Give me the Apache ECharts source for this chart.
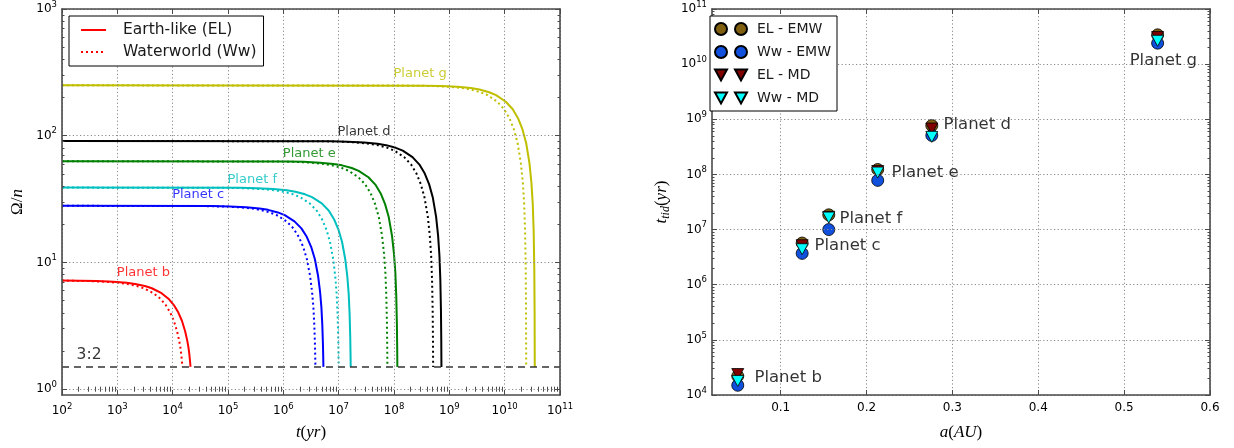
<!DOCTYPE html>
<html><head><meta charset="utf-8">
<script src="https://cdn.jsdelivr.net/npm/echarts@6/dist/echarts.min.js"></script>
<style>html,body{margin:0;padding:0;background:#fff}#c{width:1234px;height:448px}</style>
</head><body><div id="c"></div>
<script>
// ===== Left panel: Omega/n versus t (yr) =====
// Omega/n along each track (shared by EL and Ww), and times for Earth-like (EL) / Waterworld (Ww)
const bOmega = [7.2,7.17,7.13,7.05,6.92,6.77,6.52,6.26,5.72,5.18,4.61,4.04,3.47,2.87,2.44,2.13,1.87,1.67,1.56,1.5];
const bT_EL = [100,210,420,840,1470,2100,3150,4200,6300,8400,10500,12600,14700,16800,18270,19320,20055,20580,20853,21000];
const bT_Ww = [100,150,300,600,1050,1500,2250,3000,4500,6000,7500,9000,10500,12000,13050,13800,14325,14700,14895,15000];
const cOmega = [28,27.84,27.66,27.28,26.68,26.01,24.82,23.63,21.11,18.59,15.94,13.29,10.64,7.86,5.87,4.42,3.22,2.30,1.77,1.5];
const cT_EL = [100,5.3e4,1.06e5,2.12e5,3.71e5,5.3e5,7.95e5,1.06e6,1.59e6,2.12e6,2.65e6,3.18e6,3.71e6,4.24e6,4.611e6,4.876e6,5.0615e6,5.194e6,5.2629e6,5.3e6];
const cT_Ww = [100,3.8e4,7.6e4,1.52e5,2.66e5,3.8e5,5.7e5,7.6e5,1.14e6,1.52e6,1.9e6,2.28e6,2.66e6,3.04e6,3.306e6,3.496e6,3.629e6,3.724e6,3.7734e6,3.8e6];
const fOmega = [39,38.78,38.51,37.99,37.13,36.19,34.5,32.81,29.25,25.69,21.94,18.19,14.44,10.5,7.69,5.63,3.94,2.63,1.88,1.5];
const fT_EL = [100,1.65e5,3.3e5,6.6e5,1.155e6,1.65e6,2.475e6,3.3e6,4.95e6,6.6e6,8.25e6,9.9e6,1.155e7,1.32e7,1.4355e7,1.518e7,1.57575e7,1.617e7,1.63845e7,1.65e7];
const fT_Ww = [100,1e5,2e5,4e5,7e5,1e6,1.5e6,2e6,3e6,4e6,5e6,6e6,7e6,8e6,8.7e6,9.2e6,9.55e6,9.8e6,9.93e6,1e7];
const eOmega = [63,62.63,62.2,61.34,59.93,58.39,55.62,52.85,47.01,41.17,35.02,28.87,22.72,16.26,11.65,8.27,5.50,3.35,2.12,1.5];
const eT_EL = [100,1.15e6,2.3e6,4.6e6,8.05e6,1.15e7,1.725e7,2.3e7,3.45e7,4.6e7,5.75e7,6.9e7,8.05e7,9.2e7,1.0005e8,1.058e8,1.09825e8,1.127e8,1.14195e8,1.15e8];
const eT_Ww = [100,7.6e5,1.52e6,3.04e6,5.32e6,7.6e6,1.14e7,1.52e7,2.28e7,3.04e7,3.8e7,4.56e7,5.32e7,6.08e7,6.612e7,6.992e7,7.258e7,7.448e7,7.5468e7,7.6e7];
const dOmega = [91,90.46,89.84,88.58,86.53,84.29,80.26,76.23,67.73,59.23,50.28,41.33,32.38,22.98,16.27,11.35,7.32,4.19,2.40,1.5];
const dT_EL = [100,7.2e6,1.44e7,2.88e7,5.04e7,7.2e7,1.08e8,1.44e8,2.16e8,2.88e8,3.6e8,4.32e8,5.04e8,5.76e8,6.264e8,6.624e8,6.876e8,7.056e8,7.1496e8,7.2e8];
const dT_Ww = [100,5.1e6,1.02e7,2.04e7,3.57e7,5.1e7,7.65e7,1.02e8,1.53e8,2.04e8,2.55e8,3.06e8,3.57e8,4.08e8,4.437e8,4.692e8,4.8705e8,4.998e8,5.0643e8,5.1e8];
const gOmega = [250,248.5,246.8,243.3,237.6,231.4,220.2,209.0,185.4,161.8,136.9,112.1,87.2,61.1,42.5,28.8,17.7,9.0,4.0,1.5];
const gT_EL = [100,3.5e8,7e8,1.4e9,2.45e9,3.5e9,5.25e9,7e9,1.05e10,1.4e10,1.75e10,2.1e10,2.45e10,2.8e10,3.045e10,3.22e10,3.3425e10,3.43e10,3.4755e10,3.5e10];
const gT_Ww = [100,2.45e8,4.9e8,9.8e8,1.715e9,2.45e9,3.675e9,4.9e9,7.35e9,9.8e9,1.225e10,1.47e10,1.715e10,1.96e10,2.1315e10,2.254e10,2.33975e10,2.401e10,2.43285e10,2.45e10];
const resonanceT = [1e2, 1e11];
const resonanceV = [1.5, 1.5];
const leftPlanetNames = ['Planet b','Planet c','Planet f','Planet e','Planet d','Planet g'];
const leftLabelT = [1e3, 1e4, 1e5, 1e6, 9.7e6, 1e8];
const leftLabelV = [8.2, 34, 44.5, 72, 107, 305];
const resonanceLabel = ['3:2', 187, 1.83];
const leftXTicks = [2,3,4,5,6,7,8,9,10,11];      // exponents of 10
const leftYTicks = [0,1,2,3];

// ===== Right panel: t_tid (yr) versus a (AU) =====
const rightPlanetNames = ['Planet b','Planet c','Planet f','Planet e','Planet d','Planet g'];
const aAU     = [0.05, 0.125, 0.156, 0.213, 0.276, 0.539];
const tEL_EMW = [2.2e4, 5.7e6, 1.85e7, 1.23e8, 7.7e8, 3.4e10];
const tWw_EMW = [1.5e4, 3.7e6, 1.0e7, 7.8e7, 5.1e8, 2.4e10];
const tEL_MD  = [2.4e4, 5.2e6, 1.7e7, 1.15e8, 6.8e8, 3.1e10];
const tWw_MD  = [1.8e4, 4.4e6, 1.65e7, 1.08e8, 4.8e8, 2.65e10];
const rightLabelA = [0.070, 0.140, 0.169, 0.2296, 0.2902, 0.507];
const rightLabelT = [2.04e4, 4.97e6, 1.53e7, 1.04e8, 7.7e8, 1.15e10];
const rightXTicks = [0.1,0.2,0.3,0.4,0.5,0.6];
const rightYTicks = [4,5,6,7,8,9,10,11];

// ===== build =====
const L = Math.log10;
const SANS = 'DejaVu Sans';
const SERIF = 'Liberation Serif';
const SPINE = '#4a4a4a';
const C = {b:'#ff0000', c:'#0000ff', f:'#00bfbf', e:'#008000', d:'#000000', g:'#bfbf00'};

function logMinors(lo, hi) {
  const out = [];
  for (let k = Math.floor(lo); k <= Math.ceil(hi); k++)
    for (let m = 2; m <= 9; m++) { const v = k + L(m); if (v > lo && v < hi) out.push(v); }
  return out;
}
const powFmt = v => '{b|10}{s|' + Math.round(v) + '}';
const linFmt = v => String(Math.round(v * 10) / 10);
const labRich = { b: {fontSize: 12, fontFamily: SANS, color: '#000'},
                  s: {fontSize: 8.5, fontFamily: SANS, color: '#000', padding: [0,0,9,0]} };

function mkAxes(kind, grid, min, max, majors, minors, fmt, name, nameGap, nameStyle) {
  const pos = kind === 'x' ? ['bottom','top'] : ['left','right'];
  const hidden = {type:'value', gridIndex:grid, min:min, max:max,
    splitLine:{show:false}, axisLabel:{show:false}, axisLine:{show:false}, axisTick:{show:false}};
  const axes = [];
  for (let side = 0; side < 2; side++) {
    const main = Object.assign({}, hidden, {
      position: pos[side],
      axisLine: {show:true, onZero:false, lineStyle:{color:SPINE, width:1.6}},
      axisTick: {show:true, inside:true, length:5, customValues:majors, lineStyle:{color:SPINE, width:1}},
      splitLine: {show: side === 0, lineStyle:{color:'#8a8a8a', width:1, type:[1.2,2.4]}},
      z: 5
    });
    if (side === 0) {
      main.axisLabel = {show:true, customValues:majors, formatter:fmt, rich:labRich,
        fontSize:12, fontFamily:SANS, color:'#000', margin: kind === 'x' ? 7 : 5};
      main.name = name; main.nameLocation = 'middle'; main.nameGap = nameGap;
      main.nameTextStyle = nameStyle;
      if (kind === 'y') main.nameRotate = 90;
    }
    axes.push(main);
    if (minors && minors.length) {
      axes.push(Object.assign({}, hidden, {
        position: pos[side],
        axisTick: {show:true, inside:true, length:2.5, customValues:minors, lineStyle:{color:SPINE, width:1}},
        z: 5
      }));
    }
  }
  return axes;
}

const serifName = {rich:{i:{fontFamily:SERIF, fontStyle:'italic', fontSize:17, color:'#000'},
                         u:{fontFamily:SERIF, fontSize:17, color:'#000'},
                         sub:{fontFamily:SERIF, fontStyle:'italic', fontSize:12, color:'#000', padding:[8,0,0,0]}}};
const xAxes = [], yAxes = [];
const LX = xAxes.length;
xAxes.push(...mkAxes('x', 0, 2, 11, leftXTicks, logMinors(2, 11), powFmt, '{i|t}{u|(}{i|yr}{u|)}', 29, serifName));
const LY = yAxes.length;
yAxes.push(...mkAxes('y', 0, L(0.9), 3, leftYTicks, logMinors(L(0.9), 3), powFmt, '{u|Ω/}{i|n}', 36, serifName));
const RX = xAxes.length;
xAxes.push(...mkAxes('x', 1, 0.02, 0.6, rightXTicks, null, linFmt, '{i|a}{u|(}{i|AU}{u|)}', 29, serifName));
const RY = yAxes.length;
yAxes.push(...mkAxes('y', 1, 4, 11, rightYTicks, logMinors(4, 11), powFmt, '{i|t}{sub|tid}{u|(}{i|yr}{u|)}', 40, serifName));

const track = (ts, vs) => ts.map((t, i) => [L(t), L(vs[i])]);
const series = [];
function curve(name, data, color, dotted) {
  series.push({type:'line', name:name, xAxisIndex:LX, yAxisIndex:LY, data:data,
    symbol:'none', showSymbol:false, silent:true, clip:true,
    lineStyle:{color:color, width:2, type: dotted ? [2,3] : 'solid'}, itemStyle:{color:color}, z:3});
}
// legend proxies
series.push({type:'line', name:'Earth-like (EL)', xAxisIndex:LX, yAxisIndex:LY, data:[], symbol:'none',
  lineStyle:{color:'#ff0000', width:2}, itemStyle:{color:'#ff0000'}});
series.push({type:'line', name:'Waterworld (Ww)', xAxisIndex:LX, yAxisIndex:LY, data:[], symbol:'none',
  lineStyle:{color:'#ff0000', width:2, type:[2,3]}, itemStyle:{color:'#ff0000'}});
curve('b EL', track(bT_EL, bOmega), C.b, false); curve('b Ww', track(bT_Ww, bOmega), C.b, true);
curve('c EL', track(cT_EL, cOmega), C.c, false); curve('c Ww', track(cT_Ww, cOmega), C.c, true);
curve('f EL', track(fT_EL, fOmega), C.f, false); curve('f Ww', track(fT_Ww, fOmega), C.f, true);
curve('e EL', track(eT_EL, eOmega), C.e, false); curve('e Ww', track(eT_Ww, eOmega), C.e, true);
curve('d EL', track(dT_EL, dOmega), C.d, false); curve('d Ww', track(dT_Ww, dOmega), C.d, true);
curve('g EL', track(gT_EL, gOmega), C.g, false); curve('g Ww', track(gT_Ww, gOmega), C.g, true);
series.push({type:'line', name:'3:2', xAxisIndex:LX, yAxisIndex:LY, data:track(resonanceT, resonanceV), symbol:'none',
  silent:true, lineStyle:{color:'#333', width:1.5, type:[7,5]}, z:3});

const leftLabelColors = [C.b, C.c, C.f, C.e, C.d, C.g];
series.push({type:'scatter', name:'left labels', xAxisIndex:LX, yAxisIndex:LY, symbolSize:1,
  itemStyle:{color:'rgba(0,0,0,0)'}, silent:true, z:6,
  data: leftPlanetNames.map((n,i) => ({name:n, value:[L(leftLabelT[i]), L(leftLabelV[i])],
    label:{color:leftLabelColors[i]}})).concat([{name:resonanceLabel[0],
    value:[L(resonanceLabel[1]), L(resonanceLabel[2])], label:{color:'#000', fontSize:15.5}}]),
  label:{show:true, formatter:'{b}', position:[0,0], align:'left', verticalAlign:'middle',
    fontFamily:SANS, fontSize:13}});

const EDGE = {borderColor:'#000', borderWidth:0.8};
function pts(name, vals, color, sym) {
  series.push({type:'scatter', name:name, xAxisIndex:RX, yAxisIndex:RY,
    data: aAU.map((a,i) => [a, L(vals[i])]),
    symbol: sym, symbolSize: sym === 'circle' ? 12 : [12,11], symbolRotate: sym === 'triangle' ? 180 : 0,
    itemStyle: Object.assign({color:color, opacity:1}, EDGE), z:3});
}
pts('EL - EMW', tEL_EMW, '#806010', 'circle');
pts('Ww - EMW', tWw_EMW, '#1050dc', 'circle');
pts('EL - MD', tEL_MD, '#800000', 'triangle');
pts('Ww - MD', tWw_MD, '#00ffff', 'triangle');
series.push({type:'scatter', name:'right labels', xAxisIndex:RX, yAxisIndex:RY, symbolSize:1,
  itemStyle:{color:'rgba(0,0,0,0)'}, silent:true, z:6,
  data: rightPlanetNames.map((n,i) => ({name:n, value:[rightLabelA[i], L(rightLabelT[i])]})),
  label:{show:true, formatter:'{b}', position:[0,0], align:'left', verticalAlign:'middle',
    fontFamily:SANS, fontSize:16.5, color:'#000'}});

const circ2 = 'path://M0,6a6,6 0 1,0 12,0a6,6 0 1,0 -12,0ZM20,6a6,6 0 1,0 12,0a6,6 0 1,0 -12,0Z';
const tri2 = 'path://M0,0L12,0L6,11ZM20,0L32,0L26,11Z';

const option = {
  animation:false,
  backgroundColor:'#fff',
  grid:[{left:62, top:8, width:498, height:387}, {left:712, top:8, width:498, height:387}],
  xAxis:xAxes, yAxis:yAxes,
  legend:[
    {orient:'vertical', left:69, top:16, padding:[6,7,6,11], itemGap:6, itemWidth:25, itemHeight:14,
     backgroundColor:'#fff', borderColor:'#000', borderWidth:1, selectedMode:false, z:10,
     itemStyle:{opacity:0, borderWidth:0},
     textStyle:{fontFamily:SANS, fontSize:15.5, color:'#1a1a1a', padding:[0,0,0,12]},
     data:['Earth-like (EL)','Waterworld (Ww)']},
    {orient:'vertical', left:710, top:16, padding:[6,6,6,4], itemGap:9, itemWidth:32, itemHeight:12,
     backgroundColor:'#fff', borderColor:'#000', borderWidth:1, selectedMode:false, z:10,
     textStyle:{fontFamily:SANS, fontSize:14, color:'#1a1a1a', padding:[0,0,0,5]},
     data:[{name:'EL - EMW', icon:circ2},{name:'Ww - EMW', icon:circ2},
           {name:'EL - MD', icon:tri2},{name:'Ww - MD', icon:tri2}]}
  ],
  series:series
};
const chart = echarts.init(document.getElementById('c'), null, {renderer:'canvas'});
chart.setOption(option);
</script></body></html>
